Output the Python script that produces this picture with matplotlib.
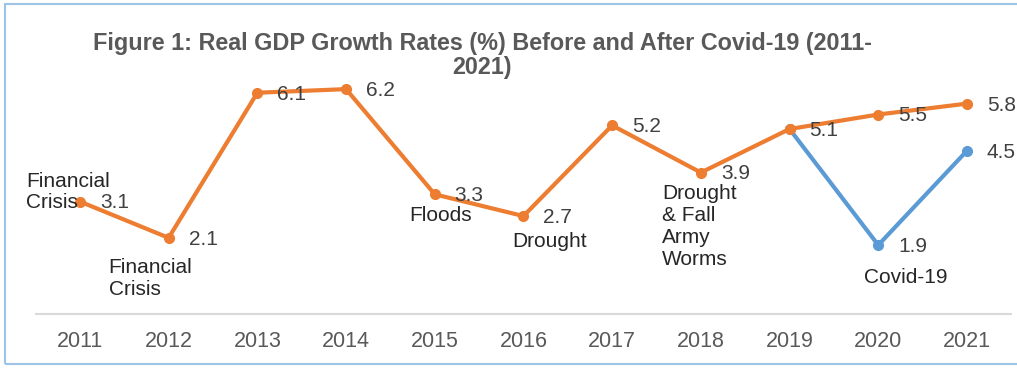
import matplotlib.pyplot as plt
from matplotlib.patches import Rectangle
import numpy as np

plt.rcParams['font.family'] = ['Liberation Sans', 'DejaVu Sans']

years = ['2011', '2012', '2013', '2014', '2015', '2016', '2017', '2018', '2019', '2020', '2021']
before_covid = [3.1, 2.1, 6.1, 6.2, 3.3, 2.7, 5.2, 3.9, 5.1, 5.5, 5.8]
after_covid = [np.nan] * 8 + [5.1, 1.9, 4.5]

# event notes: (year index, series, text, x offset px, y offset px)
events = [
    (0, 'before', 'Financial', -54, 20),
    (0, 'before', 'Crisis', -54, -1),
    (1, 'before', 'Financial\nCrisis', -60, -41),
    (4, 'before', 'Floods', -25, -21),
    (5, 'before', 'Drought', -11, -25),
    (7, 'before', 'Drought\n& Fall\nArmy\nWorms', -39, -54),
    (9, 'after', 'Covid-19', -14, -32),
]

orange = '#ED7D31'
blue = '#5B9BD5'
txt = '#404040'
PX = 72 / 100  # px -> points

fig = plt.figure(figsize=(10.17, 3.68), dpi=100)
ax = fig.add_axes([0.035, 0.1467, 0.9594, 0.690])
x = np.arange(len(years))

ax.plot(x, after_covid, color=blue, lw=3, marker='o', ms=7, zorder=2)
ax.plot(x, before_covid, color=orange, lw=3, marker='o', ms=7, zorder=3)

for i, v in enumerate(before_covid):
    ax.annotate(f'{v}', (i, v), xytext=(20 * PX, -1), textcoords='offset points',
                ha='left', va='center', fontsize=15, color=txt, zorder=4)
for i, v in enumerate(after_covid):
    if i >= 9:
        ax.annotate(f'{v}', (i, v), xytext=(20 * PX, -1), textcoords='offset points',
                    ha='left', va='center', fontsize=15, color=txt, zorder=4)

for i, series, label, dx, dy in events:
    y = after_covid[i] if series == 'after' else before_covid[i]
    ax.annotate(label, (i, y), xytext=(dx * PX, dy * PX),
                textcoords='offset points', ha='left', va='center', fontsize=15,
                color='#262626', linespacing=1.2, zorder=4)

ax.set_xlim(-0.5, 10.5)
ax.set_ylim(0, 7)
ax.set_xticks(x)
ax.set_xticklabels(years, fontsize=15.5, color='#595959')
ax.tick_params(axis='x', length=0, pad=12)
ax.set_yticks([])
for s in ['top', 'right', 'left']:
    ax.spines[s].set_visible(False)
ax.spines['bottom'].set_color('#d9d9d9')
ax.spines['bottom'].set_linewidth(1.5)

fig.text(0.474, 0.85, 'Figure 1: Real GDP Growth Rates (%) Before and After Covid-19 (2011-\n2021)',
         ha='center', va='center', fontsize=16.8, fontweight='bold', color='#595959',
         linespacing=1.05)

fig.patches.append(Rectangle((5 / 1017, 4 / 368), 1.1, 360 / 368, transform=fig.transFigure,
                             fill=False, edgecolor='#9DC3E6', lw=1.5, figure=fig))

fig.savefig('out.png', dpi=100)
